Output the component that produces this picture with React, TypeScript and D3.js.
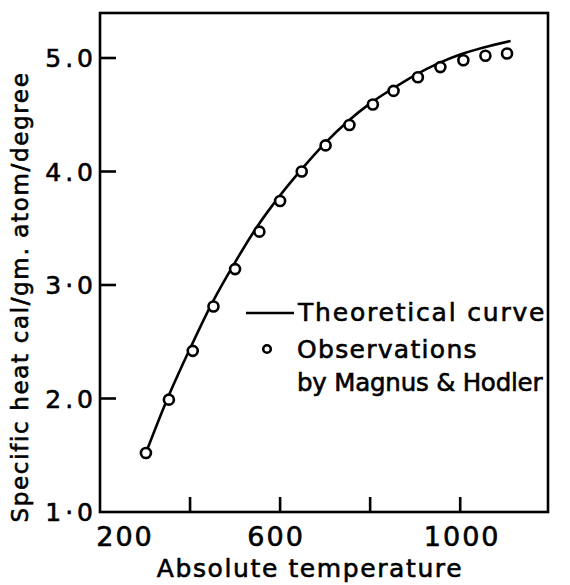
import React from "react";
import * as d3 from "d3";

const obsT = [302, 353, 406, 452, 500, 554, 600, 648, 701, 754, 806, 852, 906, 956, 1007, 1056, 1104];
const obsC = [1.52, 1.99, 2.42, 2.81, 3.14, 3.47, 3.74, 4.0, 4.23, 4.41, 4.59, 4.71, 4.83, 4.92, 4.98, 5.02, 5.04];

const curveT = [300, 350, 400, 450, 500, 550, 600, 650, 700, 750, 800, 850, 900, 950, 1000, 1050, 1112];
const curveC = [1.5, 2.0, 2.44, 2.85, 3.2, 3.52, 3.79, 4.03, 4.25, 4.44, 4.6, 4.73, 4.85, 4.95, 5.03, 5.09, 5.15];

const xTicks = [400, 600, 800, 1000];
const xLabels = [200, 600, 1000];
const yTicks = [2, 3, 4, 5];
const yLabels = ["1·0", "2.0", "3·0", "4.0", "5.0"];
const yLabelVals = [1, 2, 3, 4, 5];

const W = 570, H = 585;
const L = 100, R = 548, T = 13, B = 512;

export default function App() {
  const x = d3.scaleLinear().domain([200, 1195]).range([L, R]);
  const y = d3.scaleLinear().domain([1, 5.4]).range([B, B - 4.4 * 113.5]);
  const line = d3
    .line<number>()
    .x((_, i) => x(curveT[i]))
    .y((d) => y(d))
    .curve(d3.curveCatmullRom.alpha(0.5));
  const font = "'DejaVu Sans', sans-serif";
  const txt = { fill: "#000", stroke: "#000", strokeWidth: 0.6 };
  const xOff: Record<number, number> = { 200: 25, 600: -4, 1000: 2 };
  return (
    <svg
      width={W}
      height={H}
      style={{ position: "absolute", left: 0, top: 0, background: "#fff" }}
      fontFamily={font}
    >
      <rect x={0} y={0} width={W} height={H} fill="#fff" />
      <rect x={L} y={T} width={R - L} height={B - T} fill="none" stroke="#000" strokeWidth={2.6} />
      {xTicks.map((t) => (
        <line key={t} x1={x(t)} x2={x(t)} y1={B} y2={B - 15} stroke="#000" strokeWidth={2.6} />
      ))}
      {yTicks.map((t) => (
        <line key={t} x1={L} x2={L + 16} y1={y(t)} y2={y(t)} stroke="#000" strokeWidth={2.6} />
      ))}
      {xLabels.map((t) => (
        <text key={t} x={x(t) + xOff[t]} y={546} textAnchor="middle" fontSize={27} letterSpacing={2} {...txt}>
          {t}
        </text>
      ))}
      {yLabelVals.map((v, i) => (
        <text key={v} x={97} y={y(v) + 9} textAnchor="end" fontSize={25} letterSpacing={4} {...txt}>
          {yLabels[i]}
        </text>
      ))}
      <text x={310} y={577} textAnchor="middle" fontSize={25} letterSpacing={1.6} {...txt}>
        Absolute temperature
      </text>
      <text
        transform={`translate(28,${297}) rotate(-90)`}
        textAnchor="middle"
        fontSize={23}
        letterSpacing={1.65}
        {...txt}
      >
        Specific heat cal/gm. atom/degree
      </text>
      <path d={line(curveC) || ""} fill="none" stroke="#000" strokeWidth={2.6} />
      {obsT.map((t, i) => (
        <circle key={t} cx={x(t)} cy={y(obsC[i])} r={5} fill="#fff" stroke="#000" strokeWidth={2.6} />
      ))}
      <line x1={246} x2={294} y1={313} y2={313} stroke="#000" strokeWidth={2.6} />
      <text x={298} y={321} fontSize={25} letterSpacing={1.8} {...txt}>
        Theoretical curve
      </text>
      <circle cx={267} cy={349} r={3.8} fill="#fff" stroke="#000" strokeWidth={2.6} />
      <text x={297} y={358} fontSize={25} letterSpacing={1.3} {...txt}>
        Observations
      </text>
      <text x={297} y={391} fontSize={24.5} letterSpacing={-0.2} {...txt}>
        by Magnus &amp; Hodler
      </text>
    </svg>
  );
}
